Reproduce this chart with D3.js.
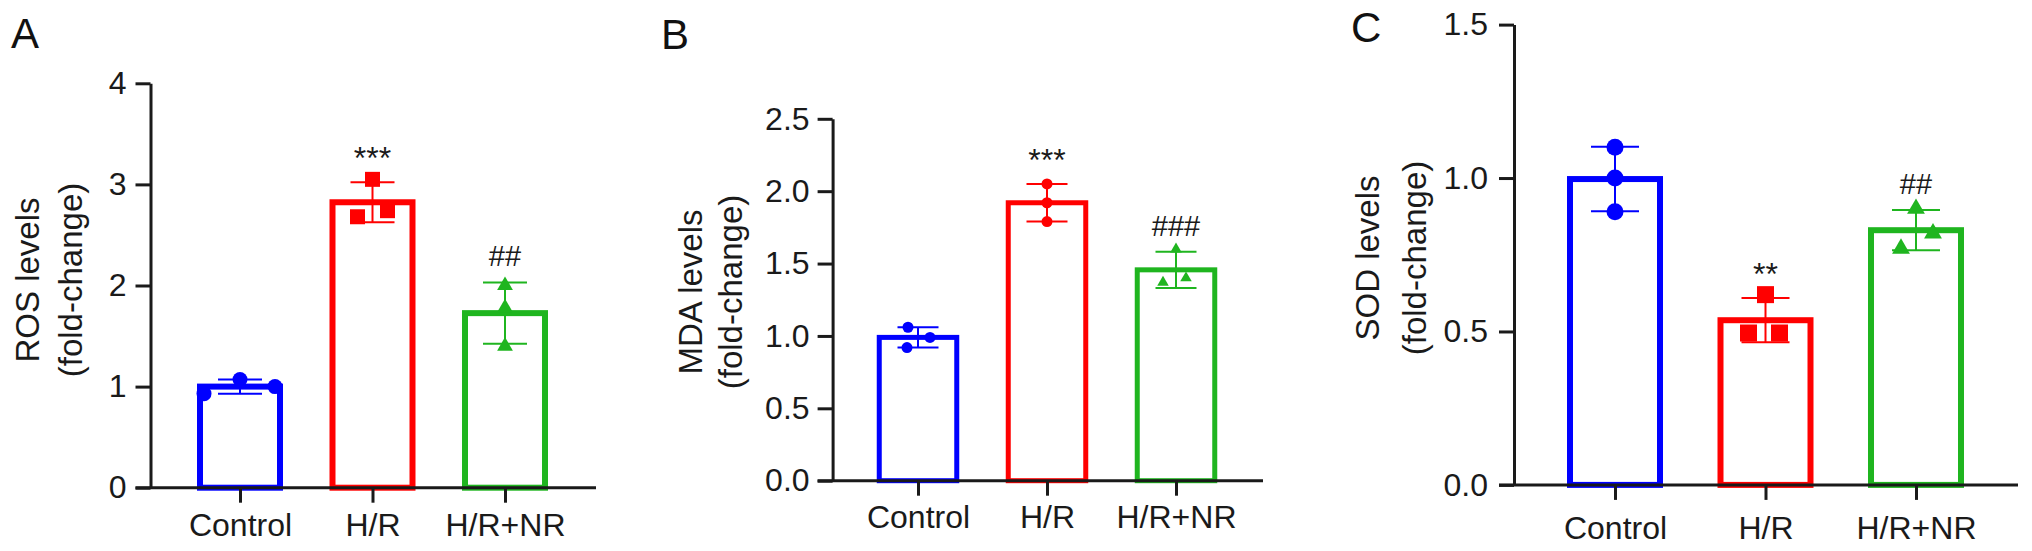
<!DOCTYPE html>
<html>
<head>
<meta charset="utf-8">
<script src="https://cdn.jsdelivr.net/npm/d3@7"></script>
<style>
  body { margin: 0; background: #fff; }
  svg { display: block; font-family: "Liberation Sans", Arial, Helvetica, sans-serif; }
</style>
</head>
<body>
<svg id="fig" width="2032" height="551"></svg>
<script>
var groups = ["Control", "H/R", "H/R+NR"];
var colors = ["#0000ff", "#ff0000", "#1fb51f"];

// replicate values
var rosValues = [[0.93, 1.07, 1.00], [2.68, 3.05, 2.74], [2.00, 1.78, 1.40]];
var mdaValues = [[1.06, 0.99, 0.92], [2.05, 1.92, 1.79], [1.60, 1.37, 1.40]];
var sodValues = [[1.10, 1.00, 0.89], [0.62, 0.495, 0.495], [0.90, 0.77, 0.82]];

var rosTicks = [0, 1, 2, 3, 4];
var mdaTicks = [0, 0.5, 1.0, 1.5, 2.0, 2.5];
var sodTicks = [0, 0.5, 1.0, 1.5];

var rosMarks = ["", "***", "##"];
var mdaMarks = ["", "***", "###"];
var sodMarks = ["", "**", "##"];

var svg = d3.select("#fig");
var ink = "#1a1a1a";

var panels = [
    { letter: "A", values: rosValues, ticks: rosTicks, marks: rosMarks, fmt: d3.format("d"),
      title: ["ROS levels", "(fold-change)"],
      axisX: 150.5, y0: 487.7, yTop: 83.3, xFirst: 240, xLast: 505, xEnd: 596,
      barW: 80, stroke: 6, capW: 44, markW: 15, tickPad: 9, labelPad: 11,
      titleX: [27.5, 70], titleY: 280, letterX: 11, letterY: 48,
      symbols: [d3.symbolCircle, d3.symbolSquare, d3.symbolTriangle],
      jitter: [[-36, 0, 35], [-15, 0, 15], [0, 0, 0]] },
    { letter: "B", values: mdaValues, ticks: mdaTicks, marks: mdaMarks, fmt: d3.format(".1f"),
      title: ["MDA levels", "(fold-change)"],
      axisX: 832.6, y0: 480.7, yTop: 118.8, xFirst: 918, xLast: 1176, xEnd: 1263,
      barW: 77.5, stroke: 5, capW: 41, markW: 11, tickPad: 8, labelPad: 10,
      titleX: [690, 730], titleY: 292, letterX: 661, letterY: 49,
      symbols: [d3.symbolCircle, d3.symbolCircle, d3.symbolTriangle],
      jitter: [[-10, 12, -11], [0, 0, 0], [0, -13, 10]] },
    { letter: "C", values: sodValues, ticks: sodTicks, marks: sodMarks, fmt: d3.format(".1f"),
      title: ["SOD levels", "(fold-change)"],
      axisX: 1514, y0: 484.9, yTop: 24.6, xFirst: 1615, xLast: 1916, xEnd: 2018,
      barW: 90, stroke: 6, capW: 48, markW: 17, tickPad: 11, labelPad: 16,
      titleX: [1367, 1414], titleY: 258, letterX: 1351, letterY: 42,
      symbols: [d3.symbolCircle, d3.symbolSquare, d3.symbolTriangle],
      jitter: [[0, 0, 0], [0, -17, 14], [0, -15, 17]] }
];

function symbolArea(type, w)
{
    if(type === d3.symbolCircle) return Math.PI*w*w/4;
    if(type === d3.symbolSquare) return w*w;
    return Math.sqrt(3)/4*w*w*1.1;
}

function drawPanel(p)
{
    var g = svg.append("g").attr("id", "panel_" + p.letter);
    var ymax = p.ticks[p.ticks.length-1];
    var y = d3.scaleLinear().domain([0, ymax]).range([p.y0, p.yTop]);
    var x = d3.scalePoint().domain(groups).range([p.xFirst, p.xLast]);

    var stats = p.values.map(function(v, i) {
        return { name: groups[i], mean: d3.mean(v), sd: d3.deviation(v), vals: v, i: i };
    });

    // bars
    g.selectAll(".bar").data(stats).enter().append("rect")
        .attr("class", "bar")
        .attr("x", function(d) { return x(d.name) - p.barW/2; })
        .attr("y", function(d) { return y(d.mean); })
        .attr("width", p.barW)
        .attr("height", function(d) { return p.y0 - y(d.mean); })
        .attr("fill", "none")
        .attr("stroke", function(d) { return colors[d.i]; })
        .attr("stroke-width", p.stroke);

    // error bars (mean +/- SD)
    var eb = g.selectAll(".err").data(stats).enter().append("g")
        .attr("class", "err")
        .attr("stroke", function(d) { return colors[d.i]; })
        .attr("stroke-width", 2);
    eb.append("line")
        .attr("x1", function(d) { return x(d.name); })
        .attr("x2", function(d) { return x(d.name); })
        .attr("y1", function(d) { return y(d.mean + d.sd); })
        .attr("y2", function(d) { return y(d.mean - d.sd); });
    [1, -1].forEach(function(s) {
        eb.append("line")
            .attr("x1", function(d) { return x(d.name) - p.capW/2; })
            .attr("x2", function(d) { return x(d.name) + p.capW/2; })
            .attr("y1", function(d) { return y(d.mean + s*d.sd); })
            .attr("y2", function(d) { return y(d.mean + s*d.sd); });
    });

    // replicate points
    stats.forEach(function(d) {
        var type = p.symbols[d.i];
        g.selectAll(".pt_" + d.i).data(d.vals).enter().append("path")
            .attr("class", "pt_" + d.i)
            .attr("d", d3.symbol().type(type).size(symbolArea(type, p.markW)))
            .attr("transform", function(v, k) {
                return "translate(" + (x(d.name) + p.jitter[d.i][k]) + "," + y(v) + ")";
            })
            .attr("fill", colors[d.i]);
    });

    // y axis
    var ya = g.append("g")
        .attr("transform", "translate(" + p.axisX + ",0)")
        .call(d3.axisLeft(y).tickValues(p.ticks).tickFormat(p.fmt)
            .tickSize(15).tickSizeOuter(0).tickPadding(p.tickPad));
    ya.select(".domain").attr("stroke", ink).attr("stroke-width", 3);
    ya.selectAll(".tick line").attr("stroke", ink).attr("stroke-width", 3);
    ya.selectAll(".tick text").attr("fill", ink).style("font-size", "32px");

    // x axis
    var xa = g.append("g")
        .attr("transform", "translate(0," + p.y0 + ")")
        .call(d3.axisBottom(x).tickSize(15).tickPadding(p.labelPad));
    xa.select(".domain").remove();
    xa.append("line")
        .attr("x1", p.axisX - 15).attr("x2", p.xEnd)
        .attr("stroke", ink).attr("stroke-width", 3);
    xa.selectAll(".tick line").attr("stroke", ink).attr("stroke-width", 3);
    xa.selectAll(".tick text").attr("fill", ink).style("font-size", "32px");

    // significance marks
    g.selectAll(".sig").data(stats.filter(function(d) { return p.marks[d.i] != ""; }))
        .enter().append("text")
        .attr("class", "sig")
        .attr("x", function(d) { return x(d.name); })
        .attr("y", function(d) {
            var top = y(d.mean + d.sd) - 26;
            return p.marks[d.i].charAt(0) == "*" ? top + 13 : top + 10;
        })
        .attr("text-anchor", "middle")
        .attr("fill", ink)
        .style("font-size", function(d) { return p.marks[d.i].charAt(0) == "*" ? "32px" : "29px"; })
        .text(function(d) { return p.marks[d.i]; });

    // axis title, two lines
    p.title.forEach(function(t, k) {
        g.append("text")
            .attr("transform", "translate(" + p.titleX[k] + "," + p.titleY + ") rotate(-90)")
            .attr("text-anchor", "middle")
            .attr("dominant-baseline", "central")
            .attr("fill", ink)
            .style("font-size", "33px")
            .text(t);
    });

    // panel letter
    g.append("text")
        .attr("x", p.letterX).attr("y", p.letterY)
        .attr("fill", "#111")
        .style("font-size", "42px")
        .text(p.letter);
}

panels.forEach(drawPanel);
</script>
</body>
</html>
